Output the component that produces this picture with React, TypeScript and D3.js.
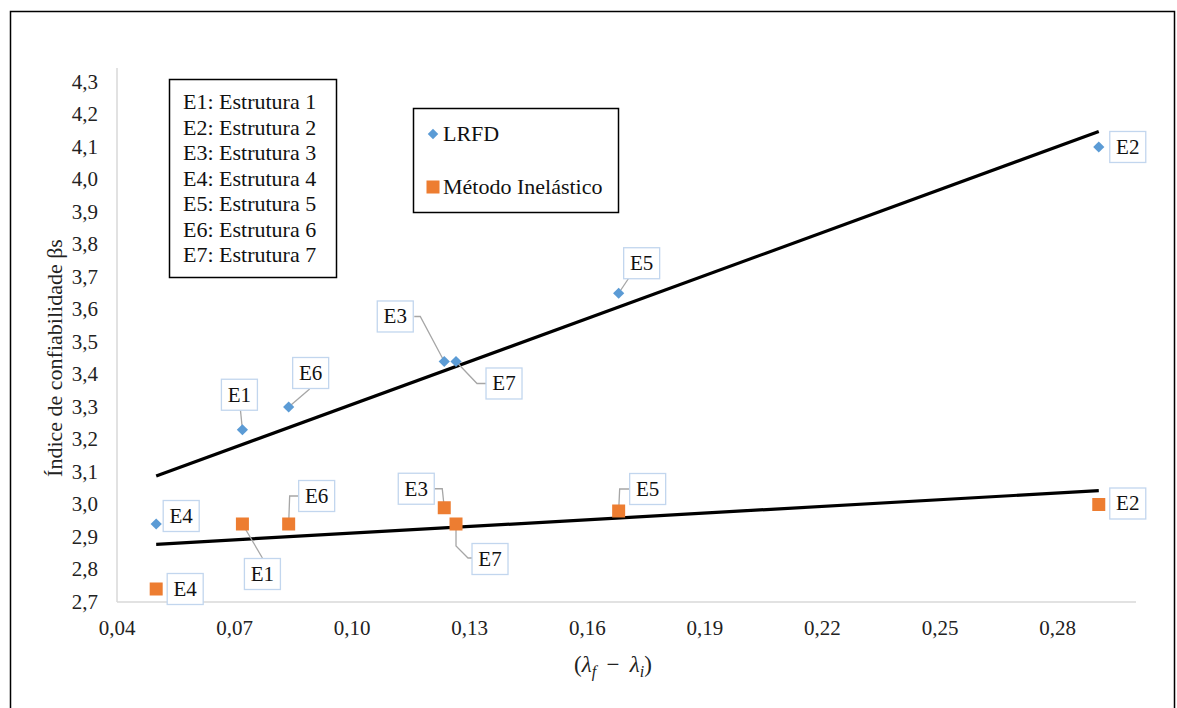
import React from "react";
import * as d3 from "d3";

// ---------- data ----------
const structures = ["E1", "E2", "E3", "E4", "E5", "E6", "E7"];
const deltaLambda = [0.072, 0.2905, 0.1235, 0.05, 0.168, 0.0838, 0.1265];
const betaLRFD = [3.23, 4.1, 3.44, 2.94, 3.65, 3.3, 3.44];
const betaInelastic = [2.94, 3.0, 2.99, 2.74, 2.98, 2.94, 2.94];
const xTicks = [0.04, 0.07, 0.1, 0.13, 0.16, 0.19, 0.22, 0.25, 0.28];
const yTicks = [2.7, 2.8, 2.9, 3.0, 3.1, 3.2, 3.3, 3.4, 3.5, 3.6, 3.7, 3.8, 3.9, 4.0, 4.1, 4.2, 4.3];
const legendStructures = [
  "E1: Estrutura 1",
  "E2: Estrutura 2",
  "E3: Estrutura 3",
  "E4: Estrutura 4",
  "E5: Estrutura 5",
  "E6: Estrutura 6",
  "E7: Estrutura 7",
];
const seriesNames = ["LRFD", "Método Inelástico"];

// ---------- layout (label placement offsets, px) ----------
type LabelLayout = { dx: number; dy: number; leader?: [number, number][] };
const lrfdLabelLayout: LabelLayout[] = [
  { dx: -3, dy: -35, leader: [[-2, -20], [0, 0]] },
  { dx: 29, dy: 0 },
  { dx: -49, dy: -45, leader: [[-30, -45], [-24, -45], [0, 0]] },
  { dx: 25, dy: -8 },
  { dx: 23, dy: -30, leader: [[10, -15], [0, 0]] },
  { dx: 22, dy: -34, leader: [[21, -18], [0, 0]] },
  { dx: 48, dy: 22, leader: [[0, 0], [21, 22], [30, 22]] },
];
const inelLabelLayout: LabelLayout[] = [
  { dx: 20, dy: 50, leader: [[0, 0], [20, 34]] },
  { dx: 29, dy: -1 },
  { dx: -28, dy: -19, leader: [[-10, -19], [-2, -19], [0, 0]] },
  { dx: 29, dy: 0 },
  { dx: 29, dy: -22, leader: [[11, -22], [1, -22], [0, 0]] },
  { dx: 28, dy: -28, leader: [[10, -28], [1, -28], [0, 0]] },
  { dx: 34, dy: 35, leader: [[0, 0], [0, 22], [12, 34], [16, 34]] },
];

const W = 1177;
const H = 708;
const BLUE = "#5B9BD5";
const ORANGE = "#ED7D31";
const TXT = { fontFamily: `"Liberation Serif"` };
const FF = "Liberation Serif";

const x = d3.scaleLinear().domain([0.04, 0.3]).range([117, 1136]);
const y = d3.scaleLinear().domain([2.7, 4.343]).range([602, 68]);

function regression(xs: number[], ys: number[]) {
  const mx = d3.mean(xs)!;
  const my = d3.mean(ys)!;
  let sxy = 0;
  let sxx = 0;
  xs.forEach((v, i) => {
    sxy += (v - mx) * (ys[i] - my);
    sxx += (v - mx) * (v - mx);
  });
  const b = sxy / sxx;
  const a = my - b * mx;
  const [x0, x1] = d3.extent(xs) as [number, number];
  return [
    [x0, a + b * x0],
    [x1, a + b * x1],
  ] as [number, number][];
}

const fmt = (v: number, d: number) => v.toFixed(d).replace(".", ",");

function DataLabels({ ys, layout }: { ys: number[]; layout: LabelLayout[] }) {
  const line = d3.line();
  return (
    <g>
      {structures.map((s, i) => {
        const px = x(deltaLambda[i]);
        const py = y(ys[i]);
        const l = layout[i];
        const bw = 36;
        const bh = 31;
        return (
          <g key={s}>
            {l.leader && (
              <path
                d={line(l.leader.map(([a, b]) => [px + a, py + b]))!}
                fill="none"
                stroke="#a6a6a6"
                strokeWidth={1.3}
              />
            )}
            <rect
              x={px + l.dx - bw / 2}
              y={py + l.dy - bh / 2}
              width={bw}
              height={bh}
              fill="#fff"
              stroke="#c2d6ee"
              strokeWidth={1.3}
            />
            <text
              x={px + l.dx}
              y={py + l.dy + 7}
              textAnchor="middle"
              fontSize={21}
              fontFamily={FF}
              style={TXT}
              fill="#111"
            >
              {s}
            </text>
          </g>
        );
      })}
    </g>
  );
}

export default function App() {
  const trendL = regression(deltaLambda, betaLRFD);
  const trendI = regression(deltaLambda, betaInelastic);
  const line = d3.line<[number, number]>().x((d) => x(d[0])).y((d) => y(d[1]));
  const diamond = d3.symbol().type(d3.symbolDiamond2).size(80);
  const square = (cx: number, cy: number, k: string) => (
    <rect key={k} x={cx - 6.5} y={cy - 6.5} width={13} height={13} fill={ORANGE} />
  );

  return (
    <div style={{ position: "absolute", left: 0, top: 0 }}>
      <svg width={W} height={H}>
        {/* outer frame */}
        <rect x={0} y={0} width={W} height={H} fill="#fff" />
        <rect x={10.5} y={11.5} width={1164} height={720} fill="none" stroke="#000" strokeWidth={1.5} />

        {/* axes */}
        <line x1={x(0.04)} x2={x(0.04)} y1={y.range()[1]} y2={y.range()[0]} stroke="#d9d9d9" strokeWidth={1.5} />
        <line x1={x.range()[0]} x2={x.range()[1]} y1={y(2.7)} y2={y(2.7)} stroke="#d9d9d9" strokeWidth={1.5} />

        {yTicks.map((t) => (
          <text key={t} x={98} y={y(t) + 7} textAnchor="end" fontSize={21} fontFamily={FF} style={TXT} fill="#222">
            {fmt(t, 1)}
          </text>
        ))}
        {xTicks.map((t) => (
          <text key={t} x={x(t)} y={635} textAnchor="middle" fontSize={21} fontFamily={FF} style={TXT} fill="#222">
            {fmt(t, 2)}
          </text>
        ))}

        {/* axis titles */}
        <text transform="translate(62,358) rotate(-90)" textAnchor="middle" fontSize={22} fontFamily={FF} style={TXT} fill="#222">
          Índice de confiabilidade βs
        </text>
        <text x={613} y={672} textAnchor="middle" fontSize={23} fontFamily={FF} style={TXT} fill="#222">
          (<tspan fontStyle="italic">λ</tspan>
          <tspan fontStyle="italic" fontSize={16} dy={5}>f</tspan>
          <tspan dy={-5}>{"\u2009 − \u2009"}</tspan>
          <tspan fontStyle="italic">λ</tspan>
          <tspan fontStyle="italic" fontSize={16} dy={5}>i</tspan>
          <tspan dy={-5}>)</tspan>
        </text>

        {/* trend lines */}
        <path d={line(trendL)!} fill="none" stroke="#000" strokeWidth={3.2} />
        <path d={line(trendI)!} fill="none" stroke="#000" strokeWidth={3.2} />

        {/* labels with leaders */}
        <DataLabels ys={betaLRFD} layout={lrfdLabelLayout} />
        <DataLabels ys={betaInelastic} layout={inelLabelLayout} />

        {/* points */}
        {deltaLambda.map((v, i) => (
          <path key={"l" + i} d={diamond()!} transform={`translate(${x(v)},${y(betaLRFD[i])})`} fill={BLUE} />
        ))}
        {deltaLambda.map((v, i) => square(x(v), y(betaInelastic[i]), "o" + i))}

        {/* structures legend */}
        <rect x={169.5} y={79.5} width={167} height={198} fill="#fff" stroke="#000" strokeWidth={1.5} />
        {legendStructures.map((s, i) => (
          <text key={s} x={183} y={109 + i * 25.5} fontSize={22} fontFamily={FF} style={TXT} fill="#111">
            {s}
          </text>
        ))}

        {/* series legend */}
        <rect x={413.5} y={108.5} width={205} height={104} fill="#fff" stroke="#000" strokeWidth={1.5} />
        <path d={d3.symbol().type(d3.symbolDiamond2).size(70)()!} transform="translate(433,134)" fill={BLUE} />
        <text x={443} y={141} fontSize={22} fontFamily={FF} style={TXT} fill="#111">{seriesNames[0]}</text>
        {square(433, 187, "lg")}
        <text x={443} y={194} fontSize={22} fontFamily={FF} style={TXT} fill="#111">{seriesNames[1]}</text>
      </svg>
    </div>
  );
}
